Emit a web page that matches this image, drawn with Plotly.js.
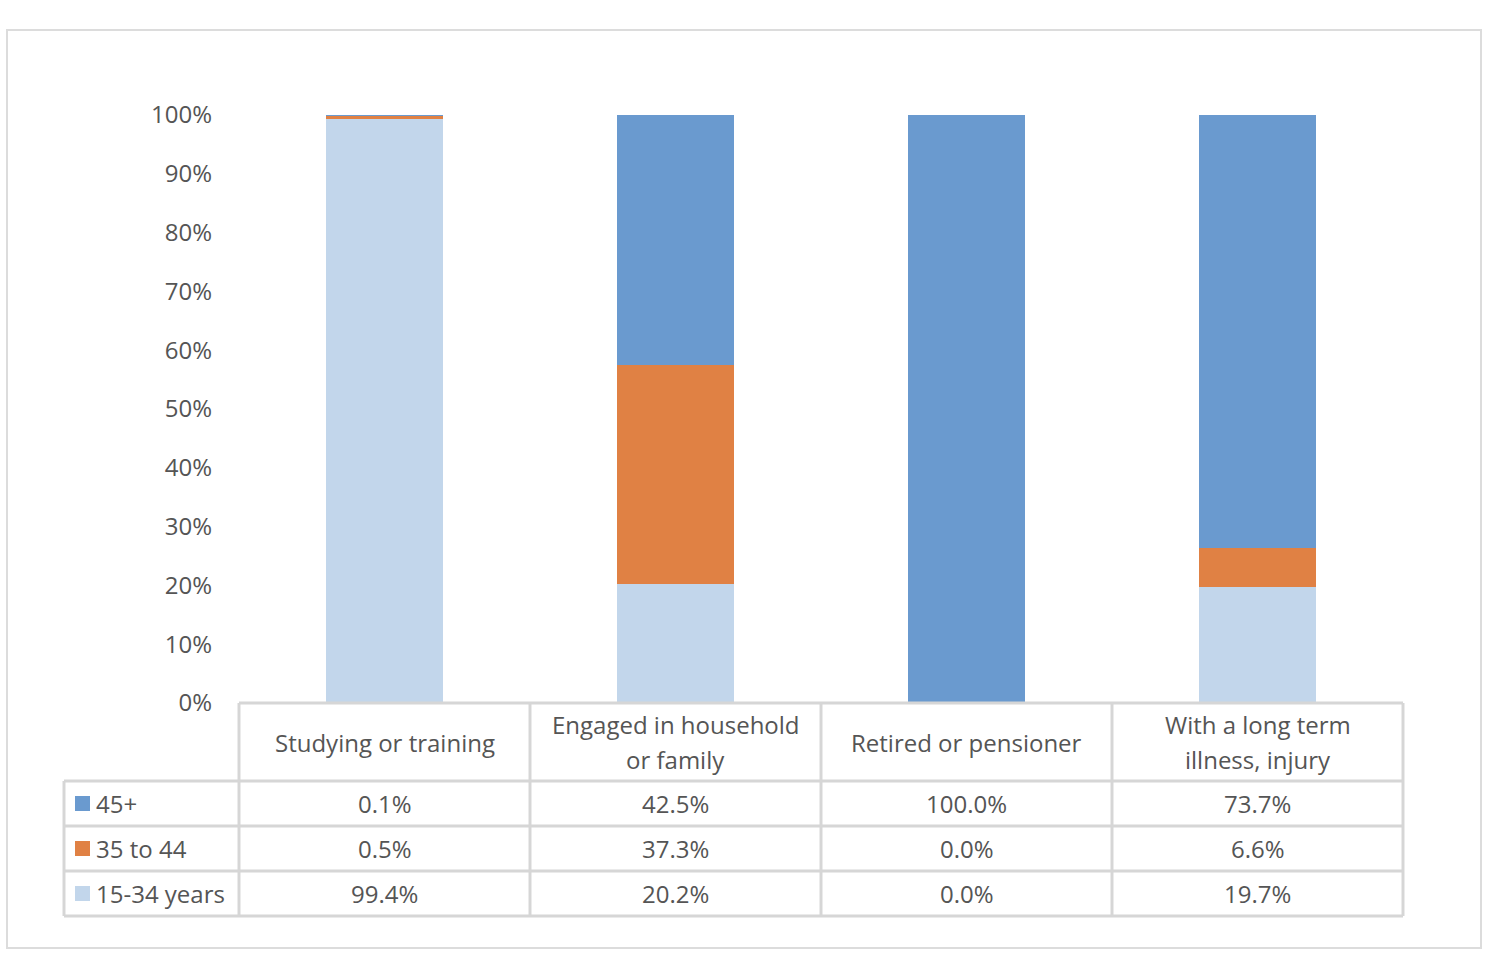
<!DOCTYPE html>
<html><head><meta charset="utf-8">
<script src="https://cdn.plot.ly/plotly-3.0.1.min.js"></script>
<style>body{margin:0;background:#fff}#chart{width:1500px;height:968px}</style>
</head><body><div id="chart"></div>
<script>
const categories = ["Studying or training", "Engaged in household<br>or family", "Retired or pensioner", "With a long term<br>illness, injury"];
const seriesNames = ["45+", "35 to 44", "15-34 years"];
const values45 = [0.1, 42.5, 100.0, 73.7];
const values35 = [0.5, 37.3, 0.0, 6.6];
const values15 = [99.4, 20.2, 0.0, 19.7];
const colors = {"45+": "#6A9ACF", "35 to 44": "#E08144", "15-34 years": "#C2D6EB"};
const yTicks = [0,10,20,30,40,50,60,70,80,90,100];

const W = 1500, H = 968;
const L = 239, R = 1403, T = 115, B = 703;
const px = x => (x - L) / (R - L);
const py = y => (B - y) / (B - T);
const font = "Open Sans, Liberation Sans, sans-serif";
const fs = 24;
const textColor = "#555555";
const lineColor = "#D6D6D6";

const xs = categories.map((c, i) => i);
const traces = [
  {name: "15-34 years", y: values15},
  {name: "35 to 44", y: values35},
  {name: "45+", y: values45}
].map(s => ({type: "bar", x: xs, y: s.y, name: s.name, width: 0.4,
  marker: {color: colors[s.name], line: {width: 0}}, hoverinfo: "skip"}));

const shapes = [];
const annotations = [];
// outer frame
shapes.push({type: "rect", xref: "paper", yref: "paper", x0: px(7), x1: px(1481), y0: py(948), y1: py(30),
  line: {color: "#DCDCDC", width: 2}, fillcolor: "rgba(0,0,0,0)", layer: "below"});
// table lines
const rowLines = [703, 781, 826, 871, 916];
const colLines = [239, 530, 821, 1112, 1403];
const tableLeft = 64;
rowLines.forEach((y, i) => {
  shapes.push({type: "line", xref: "paper", yref: "paper", x0: px(i === 0 ? L : tableLeft), x1: px(R), y0: py(y), y1: py(y),
    line: {color: lineColor, width: 3}});
});
[tableLeft].concat(colLines).forEach((x, i) => {
  shapes.push({type: "line", xref: "paper", yref: "paper", x0: px(x), x1: px(x), y0: py(i === 0 ? 781 : 703), y1: py(916),
    line: {color: lineColor, width: 3}});
});
// header labels (each line placed separately for Excel-like line spacing)
const headerCenter = 742, headerLineGap = 35;
categories.forEach((c, i) => {
  const lines = c.split("<br>");
  lines.forEach((ln, k) => {
    const yy = headerCenter + (k - (lines.length - 1) / 2) * headerLineGap;
    annotations.push({xref: "x", yref: "paper", x: i, y: py(yy), text: ln, showarrow: false,
      font: {family: font, size: fs, color: textColor}, xanchor: "center", yanchor: "middle", align: "center"});
  });
});
// data rows
const rows = [["45+", values45], ["35 to 44", values35], ["15-34 years", values15]];
const rowCenters = [803.5, 848.5, 893.5];
rows.forEach((r, ri) => {
  const yc = py(rowCenters[ri]);
  shapes.push({type: "rect", xref: "paper", yref: "paper", x0: px(75), x1: px(90),
    y0: yc - 7.5 / (B - T), y1: yc + 7.5 / (B - T), fillcolor: colors[r[0]], line: {width: 0}});
  annotations.push({xref: "paper", yref: "paper", x: px(94), y: yc, text: r[0], showarrow: false,
    font: {family: font, size: fs, color: textColor}, xanchor: "left", yanchor: "middle"});
  r[1].forEach((v, i) => {
    annotations.push({xref: "x", yref: "paper", x: i, y: yc, text: v.toFixed(1) + "%", showarrow: false,
      font: {family: font, size: fs, color: textColor}, xanchor: "center", yanchor: "middle"});
  });
});

const layout = {
  width: W, height: H,
  margin: {l: L, r: W - R, t: T, b: H - B, pad: 0},
  paper_bgcolor: "#fff", plot_bgcolor: "#fff",
  barmode: "stack", showlegend: false,
  xaxis: {range: [-0.5, 3.5], showticklabels: false, showgrid: false, zeroline: false, showline: false, ticks: "", fixedrange: true},
  yaxis: {range: [0, 100], tickvals: yTicks, ticktext: yTicks.map(v => v + "%"), showgrid: false, zeroline: false,
    showline: false, ticks: "", ticklabelstandoff: 26, tickfont: {family: font, size: fs, color: textColor}},
  shapes: shapes, annotations: annotations,
  font: {family: font}
};
Plotly.newPlot("chart", traces, layout, {staticPlot: true, displayModeBar: false});
</script></body></html>
